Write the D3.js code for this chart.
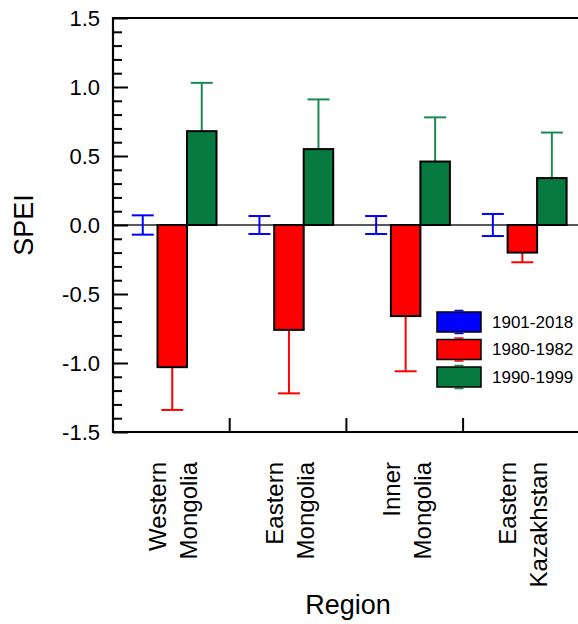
<!DOCTYPE html>
<html>
<head>
<meta charset="utf-8">
<script src="https://cdn.jsdelivr.net/npm/d3@7"></script>
<style>
    body { margin: 0; background: #fff; }
    svg { display: block; font-family: Arial, "Liberation Sans", sans-serif; }
</style>
</head>
<body>
<svg id="chart" width="578" height="624"></svg>
<script>
// Donnees
const regions = ["Western Mongolia", "Eastern Mongolia", "Inner Mongolia", "Eastern Kazakhstan"];
const regionLines = [["Western", "Mongolia"], ["Eastern", "Mongolia"], ["Inner", "Mongolia"], ["Eastern", "Kazakhstan"]];
const periods = ["1901-2018", "1980-1982", "1990-1999"];
const means1901 = [0, 0, 0, 0];
const err1901 = [0.07, 0.065, 0.065, 0.08];
const means1980 = [-1.03, -0.76, -0.66, -0.20];
const err1980 = [0.31, 0.46, 0.40, 0.07];
const means1990 = [0.68, 0.55, 0.46, 0.34];
const err1990 = [0.35, 0.36, 0.32, 0.33];
const yTicks = [-1.5, -1.0, -0.5, 0.0, 0.5, 1.0, 1.5];

const fillColors = ["#0000ff", "#ff0000", "#077b3f"];
const errColors = ["#0000ff", "#ff0000", "#1b8a52"];

const svg = d3.select("#chart");
const margin = { left: 113, top: 18, bottom: 432 };
const groupWidth = 116.7;

const x = d3.scaleBand().domain(regions).range([margin.left, margin.left + groupWidth * regions.length]);
const xInner = d3.scaleBand().domain(periods).range([15, 15 + 29.5 * periods.length]);
const y = d3.scaleLinear().domain([-1.5, 1.5]).range([margin.bottom, margin.top]);

const rows = [];
regions.forEach(function(region, i) {
    const means = [means1901[i], means1980[i], means1990[i]];
    const errs = [err1901[i], err1980[i], err1990[i]];
    periods.forEach(function(period, p) {
        rows.push({ region: region, period: period, index: p, value: means[p], err: errs[p] });
    });
});

// Ligne zero
svg.append("line")
    .attr("x1", margin.left).attr("x2", 578)
    .attr("y1", y(0)).attr("y2", y(0))
    .attr("stroke", "#222").attr("stroke-width", 1.6);

// Barres d'erreur
const capHalf = 11;
rows.forEach(function(d) {
    const cx = x(d.region) + xInner(d.period) + xInner.bandwidth() / 2;
    const ends = [];
    if (d.index === 0) {
        ends.push(d.value + d.err, d.value - d.err);
    } else if (d.value < 0) {
        ends.push(d.value - d.err);
    } else {
        ends.push(d.value + d.err);
    }
    ends.forEach(function(end) {
        svg.append("line")
            .attr("x1", cx).attr("x2", cx)
            .attr("y1", y(d.value)).attr("y2", y(end))
            .attr("stroke", errColors[d.index]).attr("stroke-width", 2);
        svg.append("line")
            .attr("x1", cx - capHalf).attr("x2", cx + capHalf)
            .attr("y1", y(end)).attr("y2", y(end))
            .attr("stroke", errColors[d.index]).attr("stroke-width", 2);
    });
});

// Barres
svg.selectAll(".bar")
    .data(rows.filter(function(d) { return d.value !== 0; }))
    .enter()
    .append("rect")
    .attr("class", "bar")
    .attr("x", function(d) { return x(d.region) + xInner(d.period); })
    .attr("y", function(d) { return y(Math.max(0, d.value)); })
    .attr("width", xInner.bandwidth())
    .attr("height", function(d) { return Math.abs(y(d.value) - y(0)); })
    .attr("fill", function(d) { return fillColors[d.index]; })
    .attr("stroke", "#000")
    .attr("stroke-width", 2);

// Axes
const yAxis = svg.append("g")
    .attr("transform", "translate(" + margin.left + ",0)")
    .call(d3.axisLeft(y).tickValues(yTicks).tickFormat(d3.format(".1f")).tickSize(-15).tickPadding(13));
yAxis.select(".domain").remove();
yAxis.selectAll("line").attr("stroke", "#000").attr("stroke-width", 2);
yAxis.selectAll("text").attr("font-size", 22).attr("fill", "#000")
    .text(function(d) { return d3.format(".1f")(d).replace("−", "-"); });

const minorTicks = d3.range(-14, 15).map(function(v) { return v / 10; })
    .filter(function(v) { return Math.abs(v * 2 - Math.round(v * 2)) > 1e-6; });
const yMinor = svg.append("g")
    .attr("transform", "translate(" + margin.left + ",0)")
    .call(d3.axisLeft(y).tickValues(minorTicks).tickFormat("").tickSize(-9));
yMinor.select(".domain").remove();
yMinor.selectAll("line").attr("stroke", "#000").attr("stroke-width", 2);

const xAxis = svg.append("g")
    .attr("transform", "translate(0," + margin.bottom + ")")
    .call(d3.axisBottom(x).tickValues(regions.slice(1)).tickSize(0).tickFormat(""));
xAxis.select(".domain").remove();
regions.slice(1).forEach(function(region) {
    svg.append("line")
        .attr("x1", x(region)).attr("x2", x(region))
        .attr("y1", margin.bottom).attr("y2", margin.bottom - 14)
        .attr("stroke", "#000").attr("stroke-width", 2);
});

// Cadre
svg.append("line").attr("x1", margin.left).attr("x2", 578).attr("y1", margin.top).attr("y2", margin.top)
    .attr("stroke", "#000").attr("stroke-width", 2.2);
svg.append("line").attr("x1", margin.left).attr("x2", 578).attr("y1", margin.bottom).attr("y2", margin.bottom)
    .attr("stroke", "#000").attr("stroke-width", 2.2);
svg.append("line").attr("x1", margin.left).attr("x2", margin.left).attr("y1", margin.top - 1).attr("y2", margin.bottom + 1)
    .attr("stroke", "#000").attr("stroke-width", 2.2);

// Etiquettes des regions
regionLines.forEach(function(lines, i) {
    const cx = x(regions[i]) + x.bandwidth() / 2;
    lines.forEach(function(line, k) {
        svg.append("text")
            .attr("transform", "translate(" + (cx - 5 + k * 31) + ",462) rotate(-90)")
            .attr("text-anchor", "end")
            .attr("font-size", 24)
            .text(line);
    });
});

// Titres des axes
svg.append("text")
    .attr("transform", "translate(33," + y(0) + ") rotate(-90)")
    .attr("text-anchor", "middle")
    .attr("font-size", 27)
    .text("SPEI");

svg.append("text")
    .attr("x", 348)
    .attr("y", 614)
    .attr("text-anchor", "middle")
    .attr("font-size", 27)
    .text("Region");

// Legende
const legend = svg.append("g").attr("transform", "translate(437,312)");
periods.forEach(function(period, i) {
    const item = legend.append("g").attr("transform", "translate(0," + (i * 27.5) + ")");
    [-1.5, 21.5].forEach(function(cy) {
        item.append("line")
            .attr("x1", 17.5).attr("x2", 26.5)
            .attr("y1", cy).attr("y2", cy)
            .attr("stroke", errColors[i]).attr("stroke-width", 1.5);
    });
    item.append("rect")
        .attr("width", 44).attr("height", 20)
        .attr("fill", fillColors[i])
        .attr("stroke", "#000").attr("stroke-width", 1.5);
    item.append("text")
        .attr("x", 55).attr("y", 10)
        .attr("dy", "0.35em")
        .attr("font-size", 17)
        .text(period);
});
</script>
</body>
</html>
